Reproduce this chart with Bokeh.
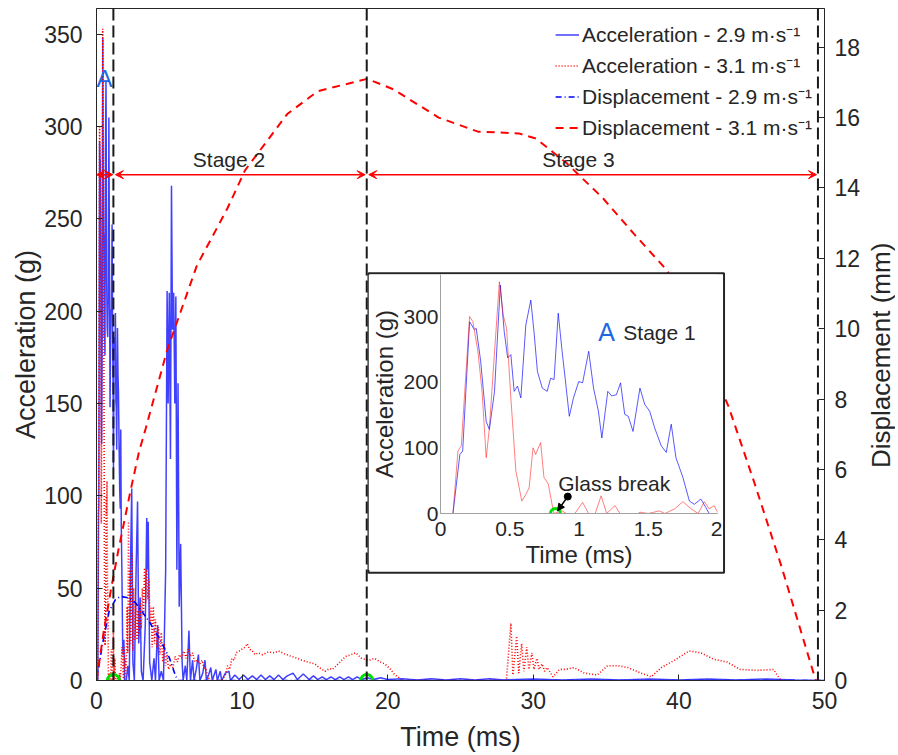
import math
from bokeh.plotting import figure
from bokeh.models import (Range1d, LinearAxis, Span, Arrow, VeeHead, NormalHead, GridBox,
                          Legend, LegendItem, FixedTicker, NumeralTickFormatter, BoxAnnotation)
from bokeh.embed import file_html
from bokeh.resources import INLINE
from bokeh.core.properties import value

FONT = "Liberation Sans"
TXT = "#262626"

# ---------------- data ----------------
# Acceleration, 2.9 m/s impact (time ms, acceleration g)
acc29_t = [0, 0.09, 0.14, 0.16, 0.21, 0.245, 0.258, 0.29, 0.33, 0.353, 0.39, 0.432, 0.46, 0.485,
           0.508, 0.532, 0.556, 0.58, 0.616, 0.652, 0.675, 0.70, 0.735, 0.77, 0.795, 0.82, 0.85,
           0.878, 0.90, 0.93, 0.96, 0.998, 1.026, 1.07, 1.105, 1.14, 1.165, 1.208, 1.236, 1.27,
           1.30, 1.33, 1.356, 1.39, 1.44, 1.475, 1.51, 1.547, 1.594, 1.63, 1.666, 1.70, 1.75,
           1.797, 1.833, 1.88, 1.916, 1.94, 1.99,
           2.05, 2.15, 2.25, 2.35, 2.42, 2.5, 2.6, 2.72, 2.82, 2.9, 3.0, 3.08, 3.2, 3.35, 3.45,
           3.5, 3.55, 3.65, 3.8, 3.95, 4.05, 4.2, 4.3, 4.45, 4.6, 4.75, 4.85, 4.92, 5.0, 5.08,
           5.15, 5.22, 5.3, 5.38, 5.45, 5.52, 5.6, 5.68, 5.78, 5.88, 5.95, 6.1, 6.2, 6.35, 6.45,
           6.6, 6.7, 6.85, 7.0, 7.1, 7.3, 7.45, 7.55, 7.7, 7.85, 7.95, 8.2, 8.3, 8.5, 8.6, 8.85,
           9.1, 9.2, 9.5, 9.8, 10.1, 10.4, 10.7, 11.0, 11.3, 11.6, 11.9, 12.2, 12.5, 12.8, 13.1,
           13.5, 13.8, 14.2, 14.6, 14.9, 15.2, 15.5, 15.8, 16.1, 16.4, 16.7, 17.0, 17.3, 17.6,
           17.9, 18.2, 18.6, 19.0, 19.5, 20.0, 21.0, 22.0, 23.0, 24.0, 25.0, 26.0, 27.0, 28.0,
           30.0, 32.0, 34.0, 36.0, 38.0, 40.0, 42.0, 44.0, 46.0, 48.0, 50.0]
acc29_a = [0, 0, 90, 95, 292, 280, 282, 232, 140, 128, 186, 348, 277, 237,
           242, 186, 194, 176, 287, 325, 277, 216, 191, 186, 206, 204, 305,
           247, 206, 148, 176, 201, 199, 247, 191, 156, 115, 186, 179, 181,
           199, 151, 148, 125, 191, 166, 156, 130, 103, 93, 136, 85, 55,
           19, 14, 22, 9, 0, 0,
           0, 8, 0, 70, 104, 10, 0, 60, 97, 20, 45, 5, 0, 30, 88,
           60, 86, 10, 0, 12, 0, 30, 0, 5, 0, 60, 211, 150, 210, 120,
           268, 190, 210, 150, 208, 60, 161, 40, 74, 10, 0, 8, 0, 27, 0,
           11, 0, 6, 14, 0, 4, 11, 0, 3, 7, 0, 6, 0, 5, 0, 4,
           5, 0, 3, 0.5, 3, 0.5, 2.5, 0.5, 3, 0.5, 2.5, 0.5, 3, 0.5, 2.5,
           4, 0.5, 3.5, 0.5, 2.5, 0.5, 2, 0.5, 2, 0.5, 2, 0.5, 2, 0.5,
           2, 0.5, 1.5, 0.5, 1.5, 0.5, 1, 0.3, 1, 0.3, 1, 0.3, 1, 0.3,
           0.8, 0.3, 0.8, 0.3, 0.8, 0.3, 0.8, 0.3, 0.8, 0.3, 0]

# Acceleration, 3.1 m/s impact (time ms, acceleration g)
acc31_t = [0, 0.09, 0.126, 0.15, 0.21, 0.234, 0.27, 0.30, 0.33, 0.353, 0.384, 0.425, 0.453, 0.477,
           0.508, 0.544, 0.587, 0.616, 0.64, 0.668, 0.687, 0.723, 0.747, 0.778, 0.818, 0.878,
           0.907, 0.97, 1.026, 1.07, 1.117, 1.16, 1.20, 1.26, 1.296, 1.427, 1.44, 1.50, 1.58,
           1.62, 1.69, 1.75, 1.81, 1.86, 1.905, 1.94, 1.976, 2.0,
           2.05, 2.1, 2.15, 2.2, 2.25, 2.3, 2.35, 2.42, 2.5, 2.55, 2.62, 2.7, 2.78, 2.85, 2.92,
           3.0, 3.08, 3.15, 3.22, 3.3, 3.38, 3.45, 3.52, 3.6, 3.68, 3.75, 3.82, 3.9, 3.98, 4.05,
           4.15, 4.25, 4.35, 4.45, 4.55, 4.65, 4.75, 4.85, 4.95, 5.1, 5.25, 5.4, 5.55, 5.7, 5.85,
           6.0, 6.15, 6.3, 6.45, 6.6, 6.75, 6.9, 7.1, 7.26, 7.4, 7.5, 7.65, 7.8, 8.6, 8.85, 9.0,
           9.15, 9.3, 9.45, 9.6, 9.8, 10.0, 10.2, 10.35, 10.5, 10.7, 10.9, 11.1, 11.4, 11.8,
           12.2, 12.5, 12.9, 13.4, 13.8, 14.1, 14.5, 15.0, 15.3, 15.7, 16.0, 16.2, 16.6, 17.1,
           17.5, 17.8, 18.2, 18.7, 19.1, 19.5, 19.8, 20.2, 20.5, 21.1, 28.15,
           28.46, 28.6, 28.86, 29.0, 29.2, 29.35, 29.55, 29.7, 29.9, 30.05, 30.25, 30.4, 30.6,
           30.78, 30.95, 31.35, 31.8, 32.2, 32.8, 33.5, 34.4, 35.1, 35.8, 36.5, 37.4, 38.1,
           38.8, 39.7, 40.7, 41.5, 42.4, 43.3, 44.2, 45.4, 46.5, 47.0, 47.3]
acc31_a = [0, 0, 95, 103, 300, 292, 247, 186, 85, 130, 227, 353, 302, 282,
           176, 65, 19, 29, 39, 100, 90, 108, 55, 45, 0, 4,
           0, 0, 17, 0, 0, 27, 0, 12, 0, 0, 2, 0, 4,
           0, 7, 18, 7, 0, 18, 7, 12, 2,
           10, 40, 15, 86, 30, 60, 20, 69, 16, 50, 22, 42, 22, 38, 24,
           42, 28, 50, 35, 61, 42, 60, 44, 55, 30, 40, 18, 40, 20, 33,
           18, 29, 14, 26, 10, 20, 8, 14, 6, 9, 7, 13, 10, 14, 12,
           16, 12, 17, 13, 15, 10, 11, 9, 11, 6, 7, 2, 0, 0, 3, 8,
           6, 12, 11, 15, 16, 17, 18, 20, 17, 16, 14, 15, 14, 15.5,
           15, 16, 14.5, 13, 12, 11, 10, 9, 7, 5, 6.5, 6, 9, 13,
           14, 15, 12, 11, 12, 10, 9, 6, 3, 0, 0,
           31, 3, 24, 4, 20, 5, 18, 6, 15, 6, 12, 6, 9,
           5, 7, 2, 6, 6, 7, 4, 3, 8, 8, 7, 4, 2,
           7, 11, 16, 15, 11.5, 10, 6, 5.5, 6, 0, 0]

# Displacement (time ms, displacement mm)
disp29_t = [0, 0.41, 0.87, 1.3, 1.65, 2.2, 2.7, 3.6, 4.3, 5.0, 5.43, 5.6, 50]
disp29_d = [0, 1.03, 1.97, 2.3, 2.39, 2.35, 2.2, 1.69, 1.21, 0.65, 0.13, 0, 0]
disp31_t = [0, 0.5, 1.0, 1.5, 2.34, 2.92, 3.37, 4.86, 6.9, 8.97, 10.2, 13.1, 15.2, 18.6, 20.4,
            23.5, 26.2, 29.0, 30.2, 32.3, 34.8, 36.9, 39.2, 41.3, 43.4, 45.2, 47.0, 49.4]
disp31_d = [0, 1.4, 2.6, 3.7, 5.4, 6.5, 7.15, 9.4, 11.8, 13.4, 14.5, 16.1, 16.75, 17.1, 16.8,
            16.0, 15.6, 15.55, 15.4, 14.7, 13.7, 12.7, 11.65, 9.8, 7.8, 5.6, 3.3, 0]

stage_bounds = [1.16, 18.56, 49.55]          # ms
glass_break = [1.16, 18.56]                  # ms, markers on time axis
stage_arrows = [(0.0, 1.12), (1.3, 18.45), (18.7, 49.45)]
stage_arrow_level = 274                      # g
stage_labels = ["Stage 2", "Stage 3"]
stage_label_t = [9.1, 33.1]

x_ticks = [0, 10, 20, 30, 40, 50]
y_ticks = [0, 50, 100, 150, 200, 250, 300, 350]
yd_ticks = [0, 2, 4, 6, 8, 10, 12, 14, 16, 18]
inset_x_ticks = [0, 0.5, 1, 1.5, 2]
inset_y_ticks = [0, 100, 200, 300]

labels = ["Acceleration - 2.9 m\u00b7s\u207b\u00b9", "Acceleration - 3.1 m\u00b7s\u207b\u00b9",
          "Displacement - 2.9 m\u00b7s\u207b\u00b9", "Displacement - 3.1 m\u00b7s\u207b\u00b9"]

# ---------------- main figure ----------------
W, H = 886, 746
p = figure(width=W, height=H, x_range=Range1d(0, 50), y_range=Range1d(0, 364),
           output_backend="svg", toolbar_location=None,
           min_border_left=86, min_border_right=70, min_border_top=0, min_border_bottom=74)
p.frame_align = False
p.extra_y_ranges = {"disp": Range1d(0, 19.1)}
p.xgrid.visible = False
p.ygrid.visible = False
p.outline_line_color = "#262626"
p.outline_line_width = 1
p.background_fill_color = "white"


def style_axis(ax, tick_size="23px", title_size="27px"):
    ax.major_label_text_font = FONT
    ax.major_label_text_font_size = tick_size
    ax.major_label_text_color = TXT
    ax.axis_label_text_font = FONT
    ax.axis_label_text_font_size = title_size
    ax.axis_label_text_font_style = "normal"
    ax.axis_label_text_color = TXT
    ax.major_tick_in = 6
    ax.major_tick_out = 0
    ax.minor_tick_line_color = None
    ax.axis_line_color = "#262626"
    ax.major_tick_line_color = "#262626"


xa = p.xaxis[0]
xa.ticker = FixedTicker(ticks=x_ticks)
xa.axis_label = "Time (ms)"
style_axis(xa)
xa.major_label_standoff = 11
xa.axis_label_standoff = 10

ya = p.yaxis[0]
ya.ticker = FixedTicker(ticks=y_ticks)
ya.axis_label = "Acceleration (g)"
style_axis(ya)
ya.major_label_standoff = 14
ya.axis_label_standoff = 0

yr = LinearAxis(y_range_name="disp", ticker=FixedTicker(ticks=yd_ticks))
style_axis(yr, tick_size="23px", title_size="26px")
yr.major_label_standoff = 10
p.add_layout(yr, "right")

# white, outlined panel behind the inset (the inset figure sits on it)
p.add_layout(BoxAnnotation(left=18.68, right=43.1, top=220.6, bottom=58.4,
                           fill_color="white", fill_alpha=1,
                           line_color="#262626", line_alpha=1, line_width=2))

r1 = p.line(acc29_t, acc29_a, line_color="#0000ff", line_width=1.5, line_alpha=0.75)
r2 = p.line(acc31_t, acc31_a, line_color="#ff0000", line_width=1.6, line_dash="1 2")
r3 = p.line(disp29_t, disp29_d, y_range_name="disp", line_color="#0000ff", line_width=1.6,
            line_dash="6 3 1 3")
r4 = p.line(disp31_t, disp31_d, y_range_name="disp", line_color="#ff0000", line_width=2,
            line_dash="8 6")

for loc in stage_bounds:
    p.add_layout(Span(location=loc, dimension="height", line_color="#1a1a1a",
                      line_width=2, line_dash="12 5"))

for (a0, a1) in stage_arrows:
    p.add_layout(Arrow(x_start=a0, y_start=stage_arrow_level, x_end=a1, y_end=stage_arrow_level,
                       line_color="#ff0000", line_width=1.5,
                       start=VeeHead(size=8, fill_color="#ff0000", line_color="#ff0000", line_width=1),
                       end=VeeHead(size=8, fill_color="#ff0000", line_color="#ff0000", line_width=1)))

p.text(x=stage_label_t, y=[stage_arrow_level + 2] * 2, text=stage_labels,
       text_font=value(FONT), text_font_size="21px", text_color=TXT,
       text_align="center", text_baseline="bottom")
p.text(x=[0.55], y=[326], text=["A"], text_font=value(FONT), text_font_size="24px",
       text_color="#1f66e5", text_align="center", text_baseline="middle")

p.scatter(x=glass_break, y=[0, 0], size=12, marker="circle", fill_color=None,
          line_color="#00e000", line_width=3)

legend = Legend(items=[LegendItem(label=labels[0], renderers=[r1]),
                       LegendItem(label=labels[1], renderers=[r2]),
                       LegendItem(label=labels[2], renderers=[r3]),
                       LegendItem(label=labels[3], renderers=[r4])],
                location="top_right", margin=12, padding=0, spacing=3,
                glyph_width=24, glyph_height=23, label_height=23, label_standoff=3,
                label_text_font=FONT, label_text_font_size="21px", label_text_color=TXT,
                background_fill_alpha=0, border_line_alpha=0)
p.add_layout(legend)

# ---------------- right-axis title (reads bottom-to-top) ----------------
TW = 30
tf = figure(width=TW, height=H, x_range=Range1d(0, 1), y_range=Range1d(0, 1),
            output_backend="svg", toolbar_location=None,
            min_border_left=0, min_border_right=0, min_border_top=0, min_border_bottom=0)
tf.frame_align = False
tf.axis.visible = False
tf.grid.visible = False
tf.outline_line_color = None
tf.background_fill_color = None
tf.border_fill_color = None
tf.text(x=[0.5], y=[0.535], text=["Displacement (mm)"], angle=math.pi / 2,
        text_font=value(FONT), text_font_size="26px", text_color=TXT,
        text_align="center", text_baseline="middle")
tf.margin = (0, 0, 0, 857)
tf.align = "start"

# ---------------- inset figure ----------------
IW, IH = 354, 296
ins = figure(width=IW, height=IH, x_range=Range1d(0, 2), y_range=Range1d(0, 364),
             output_backend="svg", toolbar_location=None,
             min_border_left=69, min_border_right=5, min_border_top=0, min_border_bottom=56)
ins.frame_align = False
ins.xgrid.visible = False
ins.ygrid.visible = False
ins.outline_line_color = None
ins.background_fill_color = "white"
ins.border_fill_color = "white"

ix = ins.xaxis[0]
ix.ticker = FixedTicker(ticks=inset_x_ticks)
ix.formatter = NumeralTickFormatter(format="0.[0]")
ix.axis_label = "Time (ms)"
iy = ins.yaxis[0]
iy.ticker = FixedTicker(ticks=inset_y_ticks)
iy.axis_label = "Acceleration (g)"
for ax in (ix, iy):
    style_axis(ax, tick_size="21px", title_size="24px")
    ax.axis_line_color = "#a0a0a0"
    ax.major_tick_in = 0
    ax.major_tick_line_color = None
ix.major_label_standoff = 8
ix.axis_label_standoff = 2
iy.major_label_standoff = 2
iy.axis_label_standoff = 2

ins.line(acc29_t, acc29_a, line_color="#0000ff", line_width=1, line_alpha=0.65)
ins.line(acc31_t, acc31_a, line_color="#ff0000", line_width=1, line_alpha=0.5)

ins.add_layout(Arrow(x_start=0.919, y_start=25.8, x_end=0.845, y_end=4,
                     line_color="black", line_width=1.5,
                     end=NormalHead(size=7, fill_color="black", line_color="black")))
ins.scatter(x=[0.919], y=[25.8], size=7, marker="circle", fill_color="black", line_color="black")
ins.scatter(x=[0.83], y=[0], size=10, marker="circle", fill_color=None,
            line_color="#00e000", line_width=3)
ins.text(x=[0.85], y=[45], text=["Glass break"], text_font=value(FONT), text_font_size="21px",
         text_color=TXT, text_align="left", text_baseline="middle")
ins.text(x=[1.2], y=[276], text=["A"], text_font=value(FONT), text_font_size="25px",
         text_color="#1f66e5", text_align="center", text_baseline="middle")
ins.text(x=[1.32], y=[276], text=["Stage 1"], text_font=value(FONT), text_font_size="21px",
         text_color=TXT, text_align="left", text_baseline="middle")

ins.margin = (266, 0, 0, 360)
ins.align = "start"

layout = GridBox(children=[(p, 0, 0), (tf, 0, 0), (ins, 0, 0)], margin=(8, 0, 0, 8))

open("out.html", "w").write(file_html(layout, INLINE))
